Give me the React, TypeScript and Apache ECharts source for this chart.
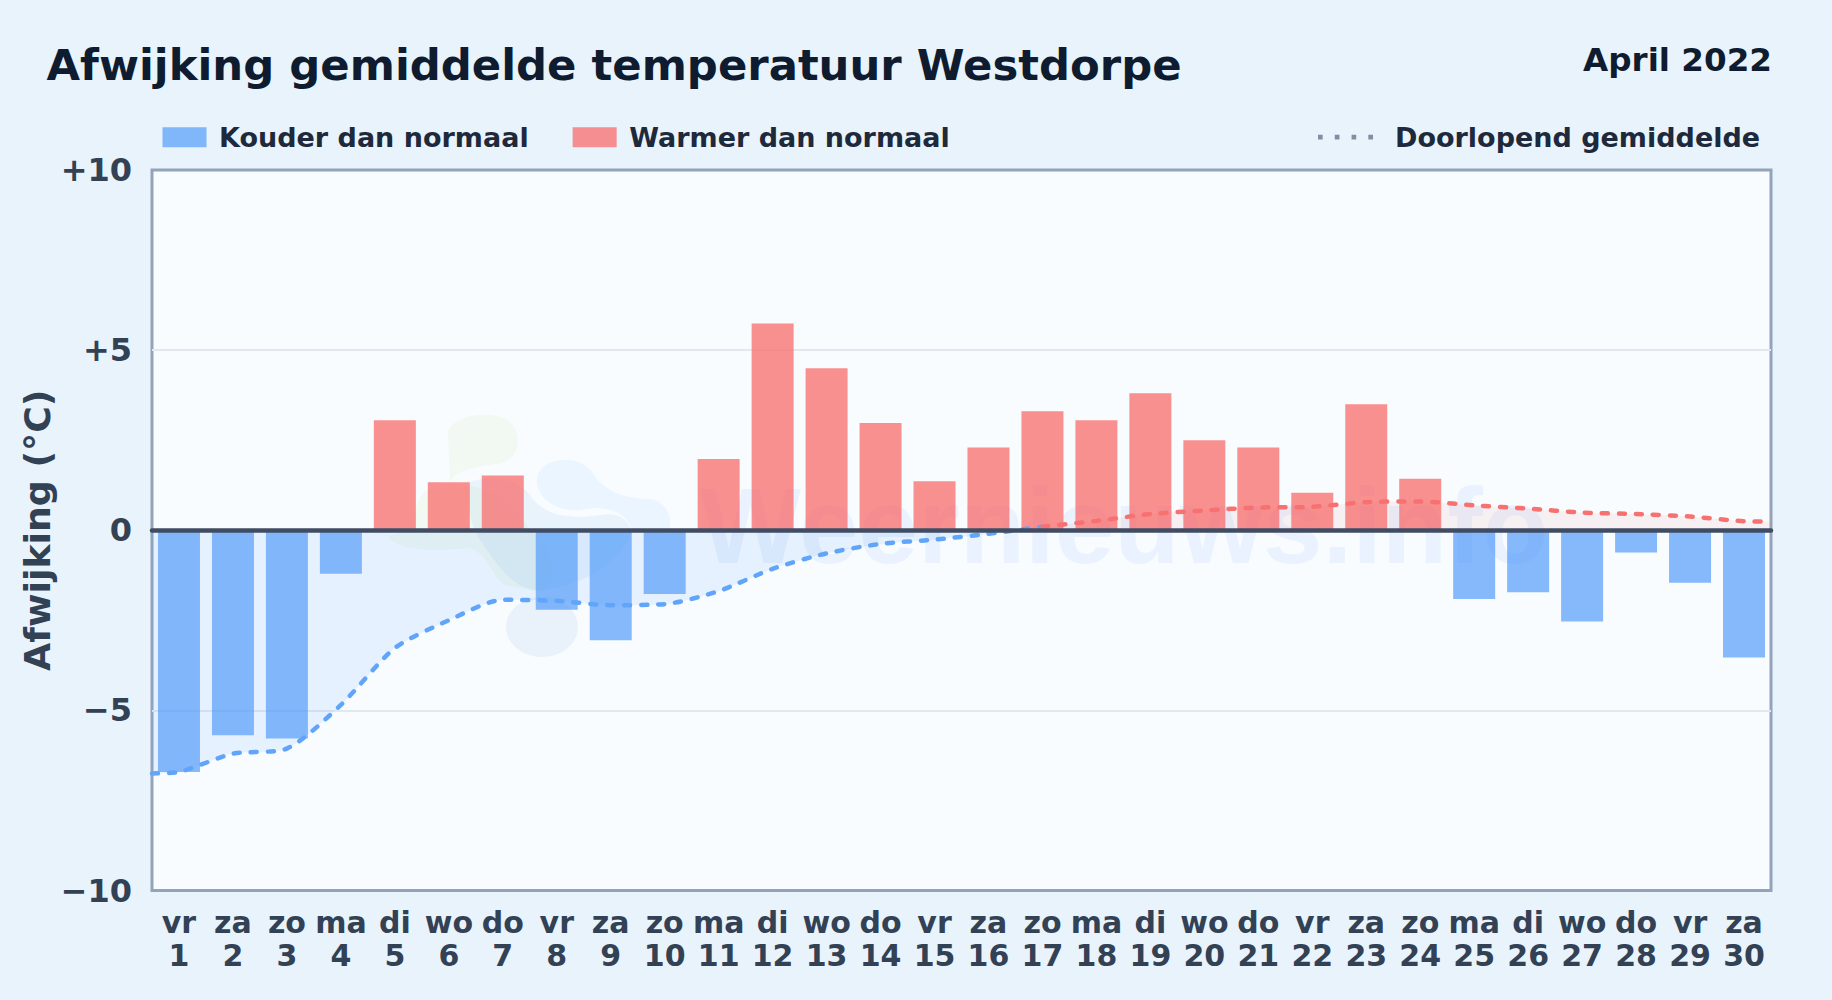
import React, { useEffect, useRef } from "react";
import * as echarts from "echarts";

const weekdays = ["vr","za","zo","ma","di","wo","do","vr","za","zo","ma","di","wo","do","vr","za","zo","ma","di","wo","do","vr","za","zo","ma","di","wo","do","vr","za"];
const days = [1,2,3,4,5,6,7,8,9,10,11,12,13,14,15,16,17,18,19,20,21,22,23,24,25,26,27,28,29,30];
const deviation = [-6.71,-5.69,-5.78,-1.21,3.05,1.33,1.52,-2.21,-3.05,-1.77,1.98,5.74,4.5,2.98,1.36,2.3,3.3,3.05,3.8,2.5,2.3,1.04,3.5,1.43,-1.91,-1.72,-2.53,-0.62,-1.46,-3.53];
const runningMean = [-6.71,-6.2,-6.06,-4.85,-3.27,-2.5,-1.93,-1.96,-2.08,-2.05,-1.69,-1.07,-0.64,-0.38,-0.26,-0.1,0.1,0.26,0.45,0.55,0.63,0.65,0.78,0.8,0.69,0.6,0.49,0.45,0.38,0.25];
const meanAtLeftEdge = -6.75;
const meanAtRightEdge = 0.24;
const zeroCrossingDay = 16.5;
const yTicks: Record<string, string> = { "10": "+10", "5": "+5", "0": "0", "-5": "\u22125", "-10": "\u221210" };

const FONT = "DejaVu Sans";
const BLUE = "#60a5fa";
const RED = "#f87171";
const DASH = [6, 11];

echarts.graphic.registerShape("wmGreen", echarts.graphic.extendPath(
  "M448 432 C452 414 498 408 512 424 C524 440 518 462 495 464 C470 468 452 472 450 484 C430 485 418 492 416 510 C412 528 398 535 388 536 C398 550 430 552 470 548 C490 555 492 578 505 585 L540 592 C560 580 555 550 530 530 C510 500 490 485 450 484 Z", {}));
echarts.graphic.registerShape("wmMid", echarts.graphic.extendPath(
  "M470 482 C490 474 520 478 532 498 C545 515 570 520 600 515 C620 512 628 520 632 532 C620 560 590 585 540 590 C510 590 495 560 480 540 C470 525 465 500 470 482 Z", {}));
echarts.graphic.registerShape("wmRight", echarts.graphic.extendPath(
  "M537 478 C540 458 578 452 592 472 C604 492 625 498 645 499 C665 498 672 515 670 530 L632 530 C625 510 605 505 580 510 C560 512 535 500 537 478 Z", {}));

export default function App() {
  const ref = useRef<HTMLDivElement>(null);
  useEffect(() => {
    const chart = echarts.init(ref.current!, undefined, { renderer: "svg" });
    const meanPairs = days.map((d, i) => [d, runningMean[i]]);
    const bluePts = [[0.5, meanAtLeftEdge], ...meanPairs.slice(0, 17)];
    const redPts = [...meanPairs.slice(16), [30.5, meanAtRightEdge]];
    const blueArea = [[0.5, meanAtLeftEdge], ...meanPairs.slice(0, 16), [zeroCrossingDay, 0]];
    const redArea = [[zeroCrossingDay, 0], ...meanPairs.slice(16), [30.5, meanAtRightEdge]];
    const lineCommon = {
      type: "line", xAxisIndex: 1, yAxisIndex: 0, symbol: "none", smooth: 0.25, silent: true,
    };
    chart.setOption({
      animation: false,
      backgroundColor: "#e8f3fc",
      title: [
        { text: "Afwijking gemiddelde temperatuur Westdorpe", left: 41.5, top: 38, textStyle: { fontFamily: FONT, fontWeight: "bold", fontSize: 43.35, color: "#0f1c30" } },
        { text: "April 2022", right: 55, top: 38.5, textStyle: { fontFamily: FONT, fontWeight: "bold", fontSize: 32.6, color: "#0f1c30" } },
      ],
      legend: [
        {
          left: 157.5, top: 118.7, itemWidth: 44, itemHeight: 20, itemGap: 44, icon: "path://M0 0H44V20H0Z", selectedMode: false,
          data: ["Kouder dan normaal", "Warmer dan normaal"],
          textStyle: { fontFamily: FONT, fontWeight: "bold", fontSize: 27, color: "#1e293b", padding: [0, 0, 0, 7.5] },
        },
        {
          left: 1313, top: 118.7, itemWidth: 55, itemHeight: 5, selectedMode: false, icon: "path://M0 0H5V5H0Z M18 0H23V5H18Z M36 0H41V5H36Z M54 0H59V5H54Z",
          data: ["Doorlopend gemiddelde"],
          textStyle: { fontFamily: FONT, fontWeight: "bold", fontSize: 27, color: "#1e293b", padding: [0, 0, 0, 17] },
        },
      ],
      grid: { left: 152, right: 61, top: 170, bottom: 109.5, show: true, backgroundColor: "#f8fcff", borderColor: "#94a3b8", borderWidth: 3, containLabel: false },
      graphic: {
        z: 1,
        silent: true,
        elements: [
          { type: "wmGreen", style: { fill: "rgba(163,215,90,0.08)" } },
          { type: "wmMid", style: { fill: "rgba(110,170,230,0.10)" } },
          { type: "wmRight", style: { fill: "rgba(96,180,250,0.09)" } },
          { type: "ellipse", shape: { cx: 542, cy: 627, rx: 36, ry: 30 }, style: { fill: "rgba(110,160,220,0.10)" } },
          { type: "text", x: 700, y: 472, style: { text: "Weernieuws.info", fontFamily: "Liberation Sans", fontSize: 107, fontWeight: "bold", fill: "rgba(59,130,246,0.08)" } },
        ],
      },
      xAxis: [
        {
          type: "category", data: days.map((d, i) => `${weekdays[i]}\n${d}`), position: "bottom", z: 10,
          axisLine: { onZero: true, lineStyle: { color: "#3f4c63", width: 4.5 } }, axisTick: { show: false }, splitLine: { show: false },
          axisLabel: { interval: 0, margin: 15, fontFamily: FONT, fontWeight: "bold", fontSize: 30, lineHeight: 33, color: "#334155" },
        },
        { type: "value", min: 0.5, max: 30.5, show: false },
      ],
      yAxis: {
        type: "value", min: -10, max: 10, interval: 5,
        name: "Afwijking (\u00B0C)", nameLocation: "middle", nameGap: 97, nameRotate: 90, nameMoveOverlap: false,
        nameTextStyle: { fontFamily: FONT, fontWeight: "bold", fontSize: 36.3, color: "#334155" },
        axisLine: { show: false }, axisTick: { show: false },
        splitLine: { showMinLine: false, showMaxLine: false, lineStyle: { color: "#e2e8f0", width: 2 } },
        axisLabel: { margin: 20, fontFamily: FONT, fontWeight: "bold", fontSize: 32, color: "#334155", formatter: (v: number) => yTicks[String(v)] },
      },
      series: [
        { ...lineCommon, name: "areaBlue", data: blueArea, lineStyle: { width: 0 }, areaStyle: { color: "rgba(96,165,250,0.18)", origin: 0 } },
        { ...lineCommon, name: "areaRed", data: redArea, lineStyle: { width: 0 }, areaStyle: { color: "rgba(248,113,113,0.12)", origin: 0 } },
        { type: "bar", name: "Kouder dan normaal", barWidth: 42, barGap: "-100%", data: deviation.map(v => (v < 0 ? v : null)), itemStyle: { color: "rgba(66,146,248,0.63)" } },
        { type: "bar", name: "Warmer dan normaal", barWidth: 42, barGap: "-100%", data: deviation.map(v => (v > 0 ? v : null)), itemStyle: { color: "rgba(248,113,113,0.78)" } },
        { ...lineCommon, name: "meanBlue", data: bluePts, lineStyle: { color: BLUE, width: 4.5, type: DASH, cap: "round" } },
        { ...lineCommon, name: "meanRed", data: redPts, lineStyle: { color: RED, width: 4.5, type: DASH, cap: "round" } },
        { type: "scatter", name: "Doorlopend gemiddelde", xAxisIndex: 1, yAxisIndex: 0, data: [], itemStyle: { color: "#64748b" } },
      ],
    });
    return () => chart.dispose();
  }, []);
  return <div ref={ref} style={{ position: "fixed", left: 0, top: 0, width: 1832, height: 1000 }} />;
}
